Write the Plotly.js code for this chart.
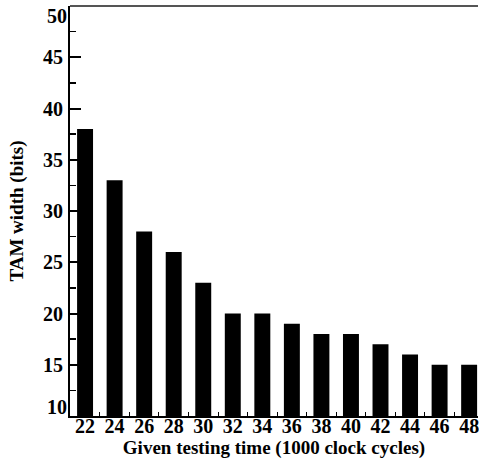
<!DOCTYPE html>
<html>
<head>
<meta charset="utf-8">
<script src="https://cdn.plot.ly/plotly-3.0.1.min.js"></script>
<style>html,body{margin:0;padding:0;background:#fff;}#chart{width:479px;height:466px;}</style>
</head>
<body>
<div id="chart"></div>
<script>
const testingTime = [22, 24, 26, 28, 30, 32, 34, 36, 38, 40, 42, 44, 46, 48];
const tamWidth = [38, 33, 28, 26, 23, 20, 20, 19, 18, 18, 17, 16, 15, 15];
const yTickVals = [15, 20, 25, 30, 35, 40, 45];
const yEndLabels = [10, 50];
const xTitle = 'Given testing time (1000 clock cycles)';
const yTitle = 'TAM width (bits)';

const fontFam = 'Liberation Serif';
const tickFont = {family: fontFam, size: 20, color: '#000', weight: 700};
const titleFont = {family: fontFam, size: 19, color: '#000', weight: 700};

const trace = {
  type: 'bar',
  x: testingTime,
  y: tamWidth.map(v => v - 10),
  base: 10,
  width: 1.08,
  marker: {color: '#000', line: {width: 0}},
  hoverinfo: 'skip'
};

const layout = {
  width: 479, height: 466,
  margin: {l: 70, r: 1, t: 6, b: 50, pad: 0},
  paper_bgcolor: '#fff', plot_bgcolor: '#fff',
  showlegend: false,
  font: {family: fontFam, color: '#000'},
  xaxis: {
    range: [20.98, 48.6],
    tickvals: testingTime,
    ticktext: testingTime.map(String),
    ticks: 'inside', ticklen: 4, tickwidth: 1, tickcolor: '#000',
    minor: {dtick: 2, tick0: 23, ticks: 'inside', ticklen: 4, tickwidth: 1, tickcolor: '#000'},
    showline: true, linecolor: '#000', linewidth: 2,
    showgrid: false, zeroline: false,
    tickfont: tickFont,
    ticklabelstandoff: -9,
    ticklabeloverflow: 'allow',
    layer: 'below traces',
    title: {text: xTitle, font: titleFont, standoff: 5}
  },
  yaxis: {
    range: [10, 50],
    tickvals: yTickVals,
    ticktext: yTickVals.map(String),
    ticks: 'inside', ticklen: 11, tickwidth: 2, tickcolor: '#000',
    minor: {dtick: 2.5, tick0: 10, ticks: 'inside', ticklen: 6, tickwidth: 1.5, tickcolor: '#000'},
    showline: true, linecolor: '#000', linewidth: 2,
    showgrid: false, zeroline: false,
    tickfont: tickFont,
    ticklabelstandoff: 1,
    ticklabeloverflow: 'allow',
    layer: 'below traces',
    title: {text: yTitle, font: titleFont, standoff: 14}
  },
  shapes: [{
    type: 'line', xref: 'paper', yref: 'paper', x0: 0, x1: 1, y0: 1, y1: 1,
    line: {color: '#555', width: 2}
  }],
  annotations: yEndLabels.map((v, i) => ({
    xref: 'paper', yref: 'y', x: 0, y: v,
    text: String(v), showarrow: false,
    xanchor: 'right', yanchor: i === 0 ? 'bottom' : 'top',
    xshift: -1, yshift: i === 0 ? -4 : 3,
    font: tickFont
  }))
};

Plotly.newPlot('chart', [trace], layout, {displayModeBar: false, staticPlot: true});
</script>
</body>
</html>
